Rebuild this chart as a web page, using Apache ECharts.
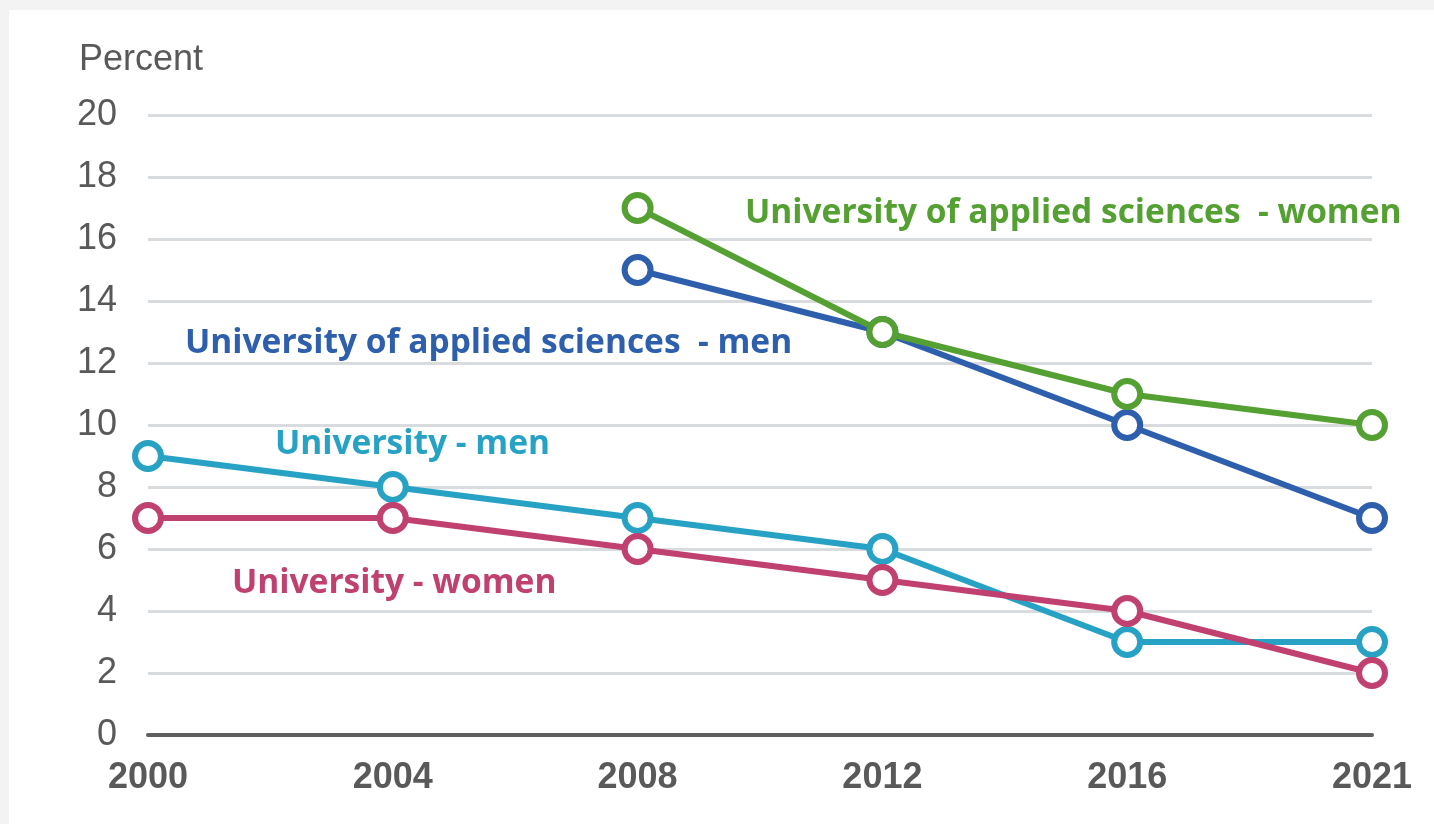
<!DOCTYPE html>
<html>
<head>
<meta charset="utf-8">
<script src="https://cdn.jsdelivr.net/npm/echarts@6/dist/echarts.min.js"></script>
<style>
  html, body { margin: 0; padding: 0; background: #f3f3f3; }
  #panel { position: absolute; left: 9px; top: 10px; right: 0; bottom: 0; background: #ffffff; }
  #chart { position: absolute; left: 0; top: 0; width: 1434px; height: 824px; }
</style>
</head>
<body>
<div id="panel"></div>
<div id="chart"></div>
<script>
// data
const years = ['2000', '2004', '2008', '2012', '2016', '2021']
const uniMen = [9, 8, 7, 6, 3, 3]
const uniWomen = [7, 7, 6, 5, 4, 2]
const uasMen = [null, null, 15, 13, 10, 7]
const uasWomen = [null, null, 17, 13, 11, 10]

const myChart = echarts.init(document.getElementById('chart'))

const mkSeries = (name, data, color) => ({
  name: name,
  type: 'line',
  data: data,
  symbol: 'circle',
  symbolSize: 26,
  showAllSymbol: true,
  lineStyle: { color: color, width: 6 },
  itemStyle: { color: '#ffffff', borderColor: color, borderWidth: 6 },
  emphasis: { disabled: true }
})

// series label text style
const lbl = (text, color, x, y) => ({
  type: 'text',
  x: x,
  y: y,
  style: {
    text: text,
    fill: color,
    fontFamily: 'Open Sans',
    fontWeight: 'bold',
    fontSize: 33.5,
    verticalAlign: 'middle'
  }
})

const option = {
  backgroundColor: 'transparent',
  animation: false,
  grid: { left: 148, right: 62, top: 115, bottom: 89 },
  xAxis: {
    type: 'category',
    data: years,
    boundaryGap: false,
    axisLine: { lineStyle: { color: '#5f5f5f', width: 4 } },
    axisTick: { show: false },
    axisLabel: {
      color: '#595959',
      fontFamily: 'Liberation Sans',
      fontWeight: 'bold',
      fontSize: 36,
      margin: 25
    }
  },
  yAxis: {
    type: 'value',
    min: 0,
    max: 20,
    interval: 2,
    name: 'Percent',
    nameLocation: 'end',
    nameGap: 37,
    nameTextStyle: {
      color: '#595959',
      fontFamily: 'Liberation Sans',
      fontSize: 36,
      align: 'left',
      padding: [0, 0, 0, -69]
    },
    axisLine: { show: false },
    axisTick: { show: false },
    splitLine: { lineStyle: { color: '#d9dcde', width: 3 } },
    axisLabel: {
      color: '#595959',
      fontFamily: 'Liberation Sans',
      fontSize: 36,
      margin: 31
    }
  },
  series: [
    mkSeries('University - men', uniMen, '#27a2c4'),
    mkSeries('University - women', uniWomen, '#c0406f'),
    mkSeries('University of applied sciences - men', uasMen, '#2e5fad'),
    mkSeries('University of applied sciences - women', uasWomen, '#54a032')
  ],
  graphic: [
    lbl('University of applied sciences  - women', '#54a032', 745, 213),
    lbl('University of applied sciences  - men', '#2e5fad', 185, 343),
    lbl('University - men', '#27a2c4', 275, 444),
    lbl('University - women', '#c0406f', 232, 583)
  ]
}

myChart.setOption(option)
window.addEventListener('resize', () => myChart.resize())
</script>
</body>
</html>
